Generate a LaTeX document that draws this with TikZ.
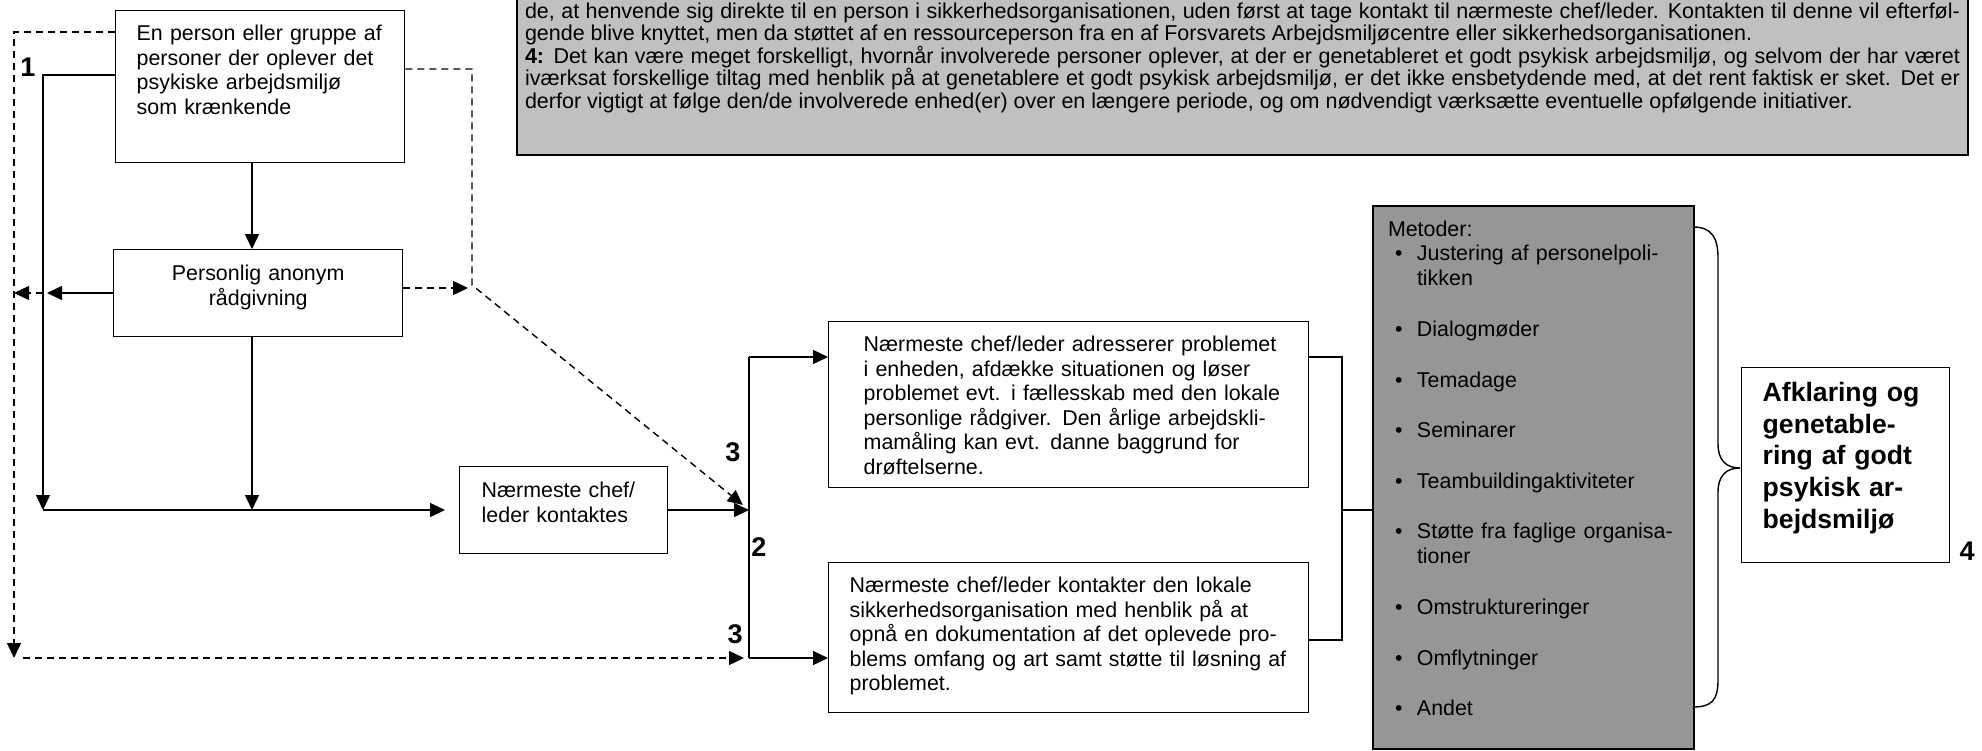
\documentclass[tikz,border=0pt]{standalone}
\usepackage{fontspec}
\setmainfont{Liberation Sans}
\usepackage{tikz}
\usetikzlibrary{arrows.meta}

\newlength{\pkt}
\setlength{\pkt}{0.5pt}
\definecolor{notegraa}{RGB}{192,192,192}
\definecolor{metodegraa}{RGB}{150,150,150}
\newcommand{\punkt}[1]{\hspace*{7\pkt}\makebox[22\pkt][l]{\textbullet}#1}
\newcommand{\fort}[1]{\hspace*{29\pkt}#1}
\newcommand{\ind}{\hspace*{14\pkt}}

\tikzset{
  boks/.style={draw, line width=0.7pt, anchor=north west, inner ysep=0pt, align=left,
    font=\fontsize{10.7}{12.25}\selectfont},
  note/.style={boks, fill=notegraa, line width=1pt, align=justify, inner xsep=8\pkt,
    font=\fontsize{10.75}{11.3}\selectfont},
  pil/.style={-{Triangle[length=7.5pt,width=7pt]}, line width=0.7pt},
  stiplet/.style={dash pattern=on 3.5pt off 2.5pt, line width=0.7pt},
  nummer/.style={font=\fontsize{13.5}{15}\selectfont\bfseries, inner sep=0pt},
}

\begin{document}
\begin{tikzpicture}[x=0.5pt, y=-0.5pt]
\useasboundingbox (0,0) rectangle (1982,750);

% forklaring foroven
\begin{scope}
  \clip (0,0) rectangle (1982,750);
  \node[note, text width=1435\pkt, text height=47\pkt, text depth=137\pkt] (note) at (516,-30) {de, at henvende sig direkte til en person i sikkerhedsorganisationen, uden først at tage kontakt til nærmeste chef/leder. Kontakten til denne vil efterføl-\linebreak gende blive knyttet, men da støttet af en ressourceperson fra en af Forsvarets Arbejdsmiljøcentre eller sikkerhedsorganisationen.\par
  \textbf{4:} Det kan være meget forskelligt, hvornår involverede personer oplever, at der er genetableret et godt psykisk arbejdsmiljø, og selvom der har været\linebreak iværksat forskellige tiltag med henblik på at genetablere et godt psykisk arbejdsmiljø, er det ikke ensbetydende med, at det rent faktisk er sket. Det er\linebreak derfor vigtigt at følge den/de involverede enhed(er) over en længere periode, og om nødvendigt værksætte eventuelle opfølgende initiativer.};
\end{scope}

% kasser
\node[boks, inner xsep=21\pkt, text width=247\pkt, text height=30\pkt, text depth=122\pkt] (person) at (115,10) {En person eller gruppe af\\ personer der oplever det\\ psykiske arbejdsmiljø\\ som krænkende};
\node[boks, align=center, inner xsep=10\pkt, text width=269\pkt, text height=31\pkt, text depth=56\pkt] (raad) at (113,249) {Personlig anonym\\ rådgivning};
\node[boks, inner xsep=22\pkt, text width=164\pkt, text height=31\pkt, text depth=56\pkt] (kontakt) at (459,466) {Nærmeste chef/\\ leder kontaktes};
\node[boks, inner xsep=21\pkt, text width=438\pkt, text height=30\pkt, text depth=136\pkt] (oevre) at (828,321) {\ind Nærmeste chef/leder adresserer problemet\\ \ind i enheden, afdække situationen og løser\\ \ind problemet evt. i fællesskab med den lokale\\ \ind personlige rådgiver. Den årlige arbejdskli-\\ \ind mamåling kan evt. danne baggrund for\\ \ind drøftelserne.};
\node[boks, inner xsep=21\pkt, text width=438\pkt, text height=30\pkt, text depth=120\pkt] (nedre) at (828,562) {Nærmeste chef/leder kontakter den lokale\\ sikkerhedsorganisation med henblik på at\\ opnå en dokumentation af det oplevede pro-\\ blems omfang og art samt støtte til løsning af\\ problemet.};
\node[boks, fill=metodegraa, line width=1pt, inner xsep=15\pkt, text width=291\pkt, text height=30\pkt, text depth=513\pkt] (metode) at (1372,205) {Metoder:\\
  \punkt{Justering af personelpoli-}\\
  \fort{tikken}\\[27\pkt]
  \punkt{Dialogmøder}\\[26\pkt]
  \punkt{Temadage}\\[26\pkt]
  \punkt{Seminarer}\\[26\pkt]
  \punkt{Teambuildingaktiviteter}\\[26\pkt]
  \punkt{Støtte fra faglige organisa-}\\
  \fort{tioner}\\[27\pkt]
  \punkt{Omstruktureringer}\\[26\pkt]
  \punkt{Omflytninger}\\[26\pkt]
  \punkt{Andet}};
\node[boks, inner xsep=21\pkt, text width=166\pkt, text height=34\pkt, text depth=161\pkt, font=\fontsize{13.3}{15.8}\selectfont\bfseries] (afklaring) at (1741,367) {Afklaring og\\ genetable-\\ ring af godt\\ psykisk ar-\\ bejdsmiljø};

% numre
\node[nummer] (n1) at (28,67) {1};
\node[nummer] (n2) at (759,547) {2};
\node[nummer] (n3a) at (733,452) {3};
\node[nummer] (n3b) at (735,634) {3};
\node[nummer] (n4) at (1967,551) {4};

% knaekpunkter
\coordinate (vlinje) at (43,75);
\coordinate (vbund) at (43,510);
\coordinate (saml) at (252,510);
\coordinate (vpil) at (43,293);
\coordinate (svest) at (14,32);
\coordinate (svestpil) at (14,293);
\coordinate (sbund) at (14,658);
\coordinate (htop) at (472,69);
\coordinate (hknaek) at (472,285);
\coordinate (hpil) at (472,288);
\coordinate (forgren) at (749,510);
\coordinate (gtop) at (749,357);
\coordinate (gbund) at (749,658);
\coordinate (otop) at (1342,357);
\coordinate (obund) at (1342,640);
\coordinate (omidt) at (1342,510);

% fuldt optrukne pile
\draw[pil] (person.south -| saml) -- (raad.north -| saml);
\draw[pil] (raad.south -| saml) -- (saml);
\draw[pil] (person.west |- vlinje) -- (vlinje) -- (vbund);
\draw[pil, shorten >=14\pkt] (vbund) -- (kontakt.west |- vbund);
\draw[pil, shorten >=4\pkt] (raad.west |- vpil) -- (vpil);
\draw[pil] (kontakt.east |- forgren) -- (forgren);
\draw[line width=0.7pt] (gtop) -- (gbund);
\draw[pil] (gtop) -- (oevre.west |- gtop);
\draw[pil] (gbund) -- (nedre.west |- gbund);
\draw[line width=0.7pt] (oevre.east |- otop) -- (otop) -- (obund) -- (nedre.east |- obund);
\draw[line width=0.7pt] (omidt) -- (metode.west |- omidt);

% stiplede pile
\draw[stiplet, pil] (vpil) -- (svestpil);
\draw[stiplet, pil] (person.west |- svest) -- (svest) -- (sbund);
\draw[stiplet, pil, shorten <=9\pkt, shorten >=5\pkt] (sbund) -- (gbund);
\draw[stiplet, pil, shorten >=4\pkt] (raad.east |- hpil) -- (hpil);
\draw[stiplet, pil, shorten >=8\pkt] (person.east |- htop) -- (htop) -- (hknaek) -- (forgren);

% klamme
\draw[line width=0.7pt] (1693,227) .. controls (1712,227) and (1718,238) .. (1718,258) -- (1718,444)
  .. controls (1718,460) and (1726,468) .. (1740,468) .. controls (1726,468) and (1718,476) .. (1718,492)
  -- (1718,680) .. controls (1718,700) and (1712,707) .. (1693,707);
\end{tikzpicture}
\end{document}
